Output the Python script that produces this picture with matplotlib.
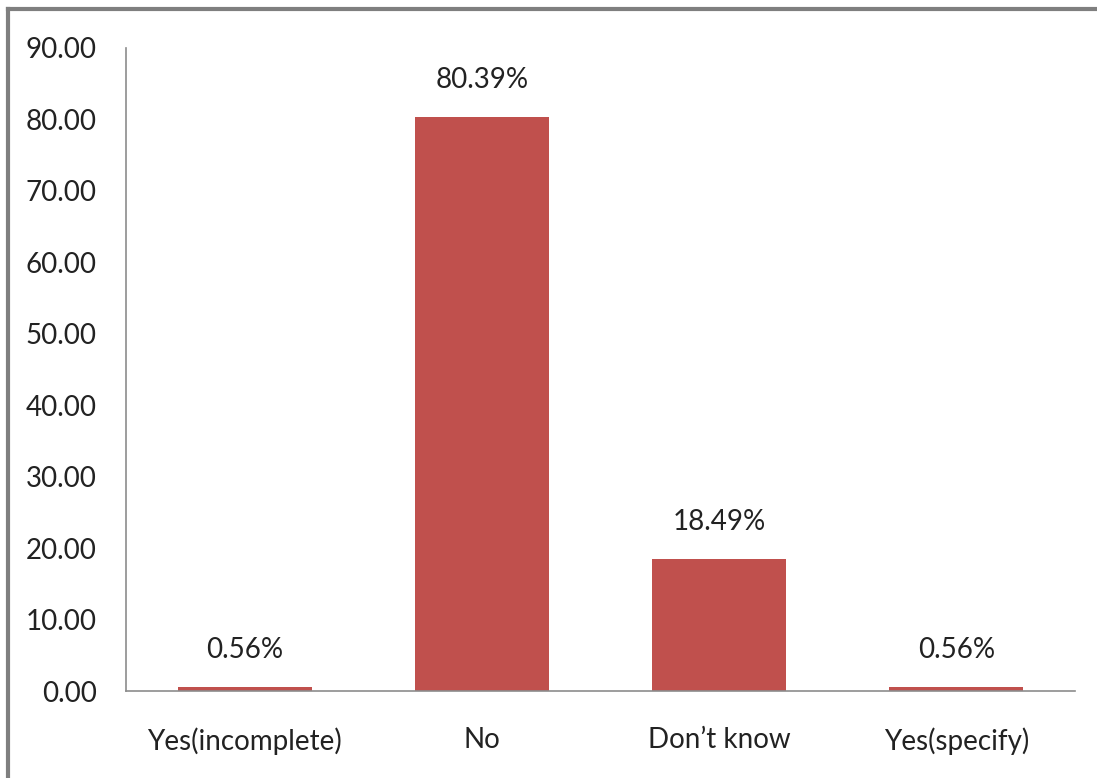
import matplotlib.pyplot as plt
from matplotlib.lines import Line2D

categories = ["Yes(incomplete)", "No", "Don\u2019t know", "Yes(specify)"]
values = [0.56, 80.39, 18.49, 0.56]
labels = ["0.56%", "80.39%", "18.49%", "0.56%"]
yticks = [0, 10, 20, 30, 40, 50, 60, 70, 80, 90]

plt.rcParams['font.family'] = ['Lato', 'DejaVu Sans']

fig = plt.figure(figsize=(10.97, 7.78), dpi=100)
ax = fig.add_axes([126/1097, 1-691/778, (1075-126)/1097, (691-48)/778])

x = range(len(categories))
ax.bar(x, values, width=0.565, color='#C0504D')
for i, v in enumerate(values):
    ax.annotate(labels[i], (i, v), xytext=(0, 17), textcoords='offset points',
                ha='center', va='bottom', fontsize=20, color='#222222')

ax.set_xlim(-0.5, 3.5)
ax.set_ylim(0, 90)
ax.set_yticks(yticks)
ax.set_yticklabels(["%.2f" % t for t in yticks])
ax.set_xticks(list(x))
ax.set_xticklabels(categories)
ax.tick_params(axis='y', length=0, pad=21, labelsize=20, labelcolor='#222222')
ax.tick_params(axis='x', length=0, pad=26, labelsize=20, labelcolor='#222222')
for s in ['top', 'right']:
    ax.spines[s].set_visible(False)
for s in ['left', 'bottom']:
    ax.spines[s].set_color('#8c8c8c')
    ax.spines[s].set_linewidth(1.2)

# outer frame (partly cropped in the reference)
fig.add_artist(Line2D([8/1097, 8/1097], [0, 1-9/778], color='#7f7f7f', lw=3, transform=fig.transFigure))
fig.add_artist(Line2D([8/1097, 1], [1-9/778, 1-9/778], color='#7f7f7f', lw=3, transform=fig.transFigure))

fig.savefig('out.png', dpi=100)
